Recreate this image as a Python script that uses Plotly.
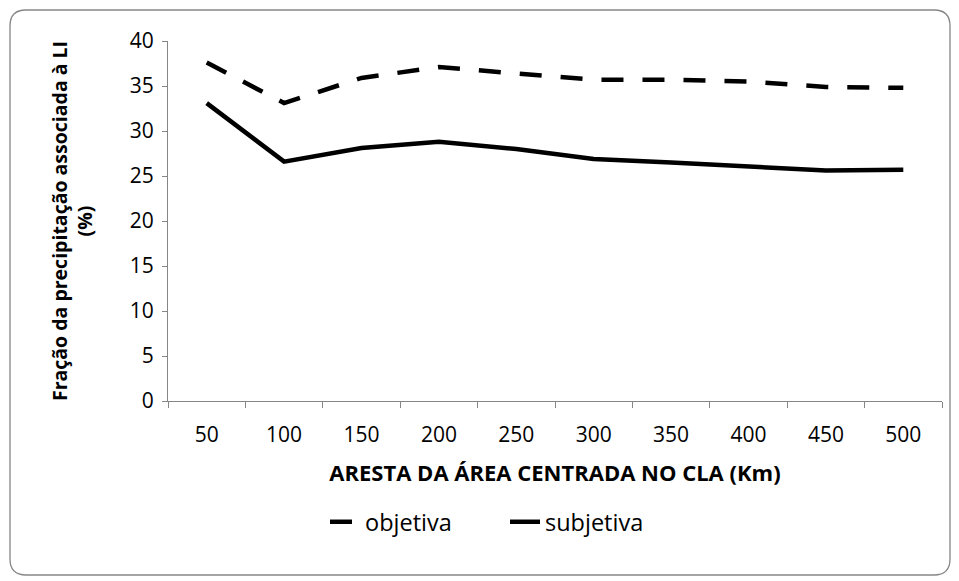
import plotly.graph_objects as go

categorias = ["50", "100", "150", "200", "250", "300", "350", "400", "450", "500"]
objetiva = [37.6, 33.1, 35.9, 37.1, 36.4, 35.7, 35.7, 35.5, 34.9, 34.8]
subjetiva = [33.1, 26.6, 28.1, 28.8, 28.0, 26.9, 26.5, 26.1, 25.6, 25.7]

# a página tem margem de 8px no body, por isso a figura é 8px menor
W, H = 951, 573
L, R, T, B = 160, 17, 33, 180
pw, ph = W - L - R, H - T - B

def px(x):
    return (x - L) / pw

def py(y):
    return (H - B - y) / ph

fonte = "'Open Sans', sans-serif"
cinza = "#868686"

fig = go.Figure()
fig.add_trace(go.Scatter(x=categorias, y=objetiva, name="objetiva", mode="lines",
                         line=dict(color="black", width=4.5, dash="22px,19px")))
fig.add_trace(go.Scatter(x=categorias, y=subjetiva, name="subjetiva", mode="lines",
                         line=dict(color="black", width=4.5)))

# moldura arredondada (estilo Excel)
x0, x1, y0, y1, r = 2, 942, 2, 567, 16
path = (f"M {px(x0 + r)} {py(y0)} L {px(x1 - r)} {py(y0)} "
        f"Q {px(x1)} {py(y0)} {px(x1)} {py(y0 + r)} L {px(x1)} {py(y1 - r)} "
        f"Q {px(x1)} {py(y1)} {px(x1 - r)} {py(y1)} L {px(x0 + r)} {py(y1)} "
        f"Q {px(x0)} {py(y1)} {px(x0)} {py(y1 - r)} L {px(x0)} {py(y0 + r)} "
        f"Q {px(x0)} {py(y0)} {px(x0 + r)} {py(y0)} Z")
fig.add_shape(type="path", path=path, xref="paper", yref="paper",
              line=dict(color=cinza, width=1.3), layer="below")

fig.update_layout(
    width=W, height=H,
    margin=dict(l=L, r=R, t=T, b=B, autoexpand=False),
    paper_bgcolor="white", plot_bgcolor="white",
    font=dict(family=fonte, size=21, color="black"),
    showlegend=True,
    legend=dict(orientation="h", x=px(497), xanchor="center", y=py(514), yanchor="middle",
                font=dict(size=23.5), itemwidth=30, entrywidth=135, tracegroupgap=0),
)
fig.update_xaxes(
    type="category", range=[-0.5, 9.5], showline=True, linecolor=cinza, linewidth=1,
    ticks="outside", tickson="boundaries", ticklen=6, tickcolor=cinza,
    showgrid=False, zeroline=False, ticklabelstandoff=15,
    title=dict(text="<b>ARESTA DA ÁREA CENTRADA NO CLA (Km)</b>", font=dict(size=22), standoff=18),
)
fig.update_yaxes(
    range=[0, 40], dtick=5, showline=True, linecolor=cinza, linewidth=1,
    ticks="outside", ticklen=5, tickcolor=cinza,
    showgrid=False, zeroline=False, ticklabelstandoff=4,
    title=dict(text="<b>Fração da precipitação associada à LI<br>(%)</b>", font=dict(size=19.5), standoff=31),
)

fig.write_html("out.html")
